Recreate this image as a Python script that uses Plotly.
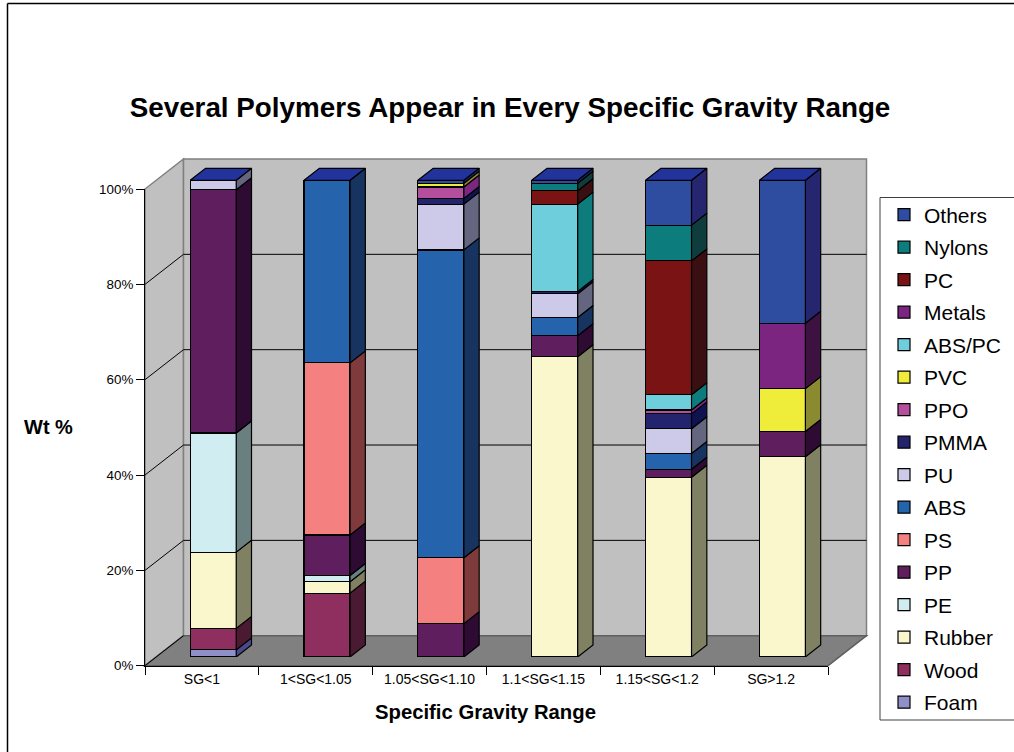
import plotly.graph_objects as go

categories = ["SG<1", "1<SG<1.05", "1.05<SG<1.10", "1.1<SG<1.15", "1.15<SG<1.2", "SG>1.2"]
series_names = ["Foam", "Wood", "Rubber", "PE", "PP", "PS", "ABS", "PU", "PMMA", "PPO", "PVC", "ABS/PC", "Metals", "PC", "Nylons", "Others"]

foam = [1.5, 0, 0, 0, 0, 0]
wood = [4.5, 13.4, 0, 0, 0, 0]
rubber = [16, 2.4, 0, 63, 37.7, 42]
pe = [25, 1.3, 0, 0, 0, 0]
pp = [51, 8.5, 7, 4.4, 1.7, 5.3]
ps = [0, 36.1, 13.8, 0, 0, 0]
abs_ = [0, 38.3, 64.6, 3.8, 3.3, 0]
pu = [2, 0, 9.6, 5, 5.2, 0]
pmma = [0, 0, 1.2, 0.5, 3.1, 0]
ppo = [0, 0, 2.4, 0, 0.8, 0]
pvc = [0, 0, 0.8, 0, 0, 9]
abs_pc = [0, 0, 0, 18.3, 3.2, 0]
metals = [0, 0, 0, 0, 0, 13.7]
pc = [0, 0, 0, 2.8, 28.1, 0]
nylons = [0, 0, 0, 1.6, 7.5, 0]
others = [0, 0, 0.6, 0.6, 9.4, 30]

series_values = [foam, wood, rubber, pe, pp, ps, abs_, pu, pmma, ppo, pvc, abs_pc, metals, pc, nylons, others]

front_colors = ["#9090C8", "#8F2F5F", "#FBF7CD", "#D0EEF2", "#5F1F5F", "#F58080", "#2563AC", "#CCCAE8",
                "#24246E", "#B64E9E", "#F0EC3A", "#6FCEDC", "#7B2480", "#7A1414", "#0D7C7C", "#2E4DA0"]
side_colors = ["#4A4A8A", "#4A1A33", "#808062", "#6A8080", "#2E0B33", "#7F3B3B", "#17335F", "#646680",
               "#0F1450", "#7B2780", "#8A8A30", "#0E7C7C", "#3D1240", "#3A0F12", "#0F3C3C", "#262670"]
top_color = "#22339B"

W, H = 1014, 752
X = lambda p: p / W
Y = lambda p: 1 - p / H

# plot geometry (pixels)
ax_l, ax_r, ax_b, ax_t = 145, 828, 665.7, 189
dep_x, dep_y = 38.5, 30
bar_off_x, bar_off_y = 11.3, 8.7
bar_w = 0.404
bar_dx, bar_dy = 15.3 / ((ax_r - ax_l) / 6), 12 / ((ax_b - ax_t) / 100)

fig = go.Figure()

# invisible trace so the real axis draws its categories
fig.add_trace(go.Scatter(x=categories, y=[0] * 6, mode="markers", marker=dict(opacity=0),
                         showlegend=False, hoverinfo="skip", xaxis="x", yaxis="y"))

idx = list(range(6))
cum = [0.0] * 6
for k, (name, vals, fc, sc) in enumerate(zip(series_names, series_values, front_colors, side_colors)):
    fig.add_trace(go.Bar(x=idx, y=[v if v else None for v in vals], name=name, width=bar_w,
                         marker=dict(color=fc, line=dict(color="black", width=1.2)),
                         legendgroup=name, legendrank=100 - k, xaxis="x2", yaxis="y2"))
    xs, ys = [], []
    for i, v in enumerate(vals):
        if v:
            r = i + bar_w / 2
            xs += [r, r + bar_dx, r + bar_dx, r, r, None]
            ys += [cum[i], cum[i] + bar_dy, cum[i] + v + bar_dy, cum[i] + v, cum[i], None]
            cum[i] += v
    fig.add_trace(go.Scatter(x=xs, y=ys, mode="lines", fill="toself", fillcolor=sc,
                             line=dict(color="black", width=1.2), showlegend=False, hoverinfo="skip",
                             legendgroup=name, xaxis="x2", yaxis="y2"))

tx, ty = [], []
for i, t in enumerate(cum):
    l, r = i - bar_w / 2, i + bar_w / 2
    tx += [l, r, r + bar_dx, l + bar_dx, l, None]
    ty += [t, t, t + bar_dy, t + bar_dy, t, None]
fig.add_trace(go.Scatter(x=tx, y=ty, mode="lines", fill="toself", fillcolor=top_color,
                         line=dict(color="black", width=1.2), showlegend=False, hoverinfo="skip",
                         xaxis="x2", yaxis="y2"))


def poly(pts, fill, line):
    path = "M " + " L ".join(f"{X(a):.5f},{Y(b):.5f}" for a, b in pts) + " Z"
    return dict(type="path", xref="paper", yref="paper", path=path, fillcolor=fill,
                line=dict(color=line, width=1.5), layer="below")


def seg(a, b, c, d, color="black", width=1):
    return dict(type="line", xref="paper", yref="paper", x0=X(a), y0=Y(b), x1=X(c), y1=Y(d),
                line=dict(color=color, width=width), layer="below")


bl, bt, br, bb = ax_l + dep_x, ax_t - dep_y, ax_r + dep_x, ax_b - dep_y
shapes = [
    seg(7.5, 3.5, W, 3.5, width=1.5),
    seg(7.5, 3.5, 7.5, H, width=1.5),
    poly([(ax_l, ax_b), (bl, bb), (bl, bt), (ax_l, ax_t)], "#C0C0C0", "#808080"),
    poly([(bl, bt), (br, bt), (br, bb), (bl, bb)], "#C0C0C0", "#808080"),
    poly([(ax_l, ax_b), (ax_r, ax_b), (br, bb), (bl, bb)], "#808080", "#606060"),
    seg(ax_l, ax_b, bl, bb),
    dict(type="rect", xref="paper", yref="paper", x0=X(880), y0=Y(720), x1=1.01, y1=Y(197.5),
         line=dict(color="#404040", width=1), fillcolor="white", layer="below"),
]
for v in [20, 40, 60, 80]:
    py = ax_b - (ax_b - ax_t) * v / 100
    shapes.append(seg(ax_l, py, bl, py - dep_y))
    shapes.append(seg(bl, py - dep_y, br, py - dep_y))

front_b = ax_b - bar_off_y
scale_y = (ax_b - ax_t) / 100
band = (ax_r - ax_l) / 6
x2_l = ax_l + bar_off_x

fig.update_layout(
    width=W, height=H, autosize=False,
    margin=dict(l=0, r=0, t=0, b=0, autoexpand=False),
    paper_bgcolor="white", plot_bgcolor="rgba(0,0,0,0)",
    barmode="stack",
    font=dict(family="Liberation Sans, Arial, sans-serif", color="black", size=13),
    shapes=shapes,
    title=dict(text="<b>Several Polymers Appear in Every Specific Gravity Range</b>",
               x=510 / W, xanchor="center", y=Y(107), yanchor="middle",
               font=dict(size=27.8, color="black")),
    xaxis=dict(type="category", categoryorder="array", categoryarray=categories,
               domain=[X(ax_l), X(ax_r)], range=[-0.5, 5.5], tickson="boundaries", ticks="outside",
               ticklen=8, tickwidth=1, tickcolor="black", showline=True, linecolor="black", linewidth=1,
               showgrid=False, zeroline=False, tickfont=dict(size=14), tickangle=0,
               anchor="y"),
    yaxis=dict(domain=[Y(ax_b), Y(ax_t)], range=[0, 100], tickvals=[0, 20, 40, 60, 80, 100],
               ticktext=["0%", "20%", "40%", "60%", "80%", "100%"], ticks="outside", ticklen=8,
               tickwidth=1, tickcolor="black", showline=True, linecolor="black", linewidth=1,
               showgrid=False, zeroline=False, tickfont=dict(size=13.4), anchor="x"),
    xaxis2=dict(domain=[X(x2_l), X(x2_l + 6.3 * band)], range=[-0.5, 5.8], visible=False, anchor="y2"),
    yaxis2=dict(domain=[Y(front_b), Y(front_b - 104 * scale_y)], range=[0, 104], visible=False, anchor="x2"),
    legend=dict(x=X(884), xanchor="left", y=Y(194.5), yanchor="top",
                traceorder="grouped",
                tracegroupgap=2.2, bgcolor="rgba(0,0,0,0)", borderwidth=0, font=dict(size=21, color="black")),
    annotations=[
        dict(text="<b>Wt %</b>", xref="paper", yref="paper", x=X(48.5), y=Y(427), xanchor="center",
             yanchor="middle", showarrow=False, font=dict(size=20)),
        dict(text="<b>Specific Gravity Range</b>", xref="paper", yref="paper", x=X(485), y=Y(712),
             xanchor="center", yanchor="middle", showarrow=False, font=dict(size=20.3)),
    ],
)

fig.write_html("out.html", post_script="document.body.style.margin='0';",
               config=dict(displayModeBar=False))
